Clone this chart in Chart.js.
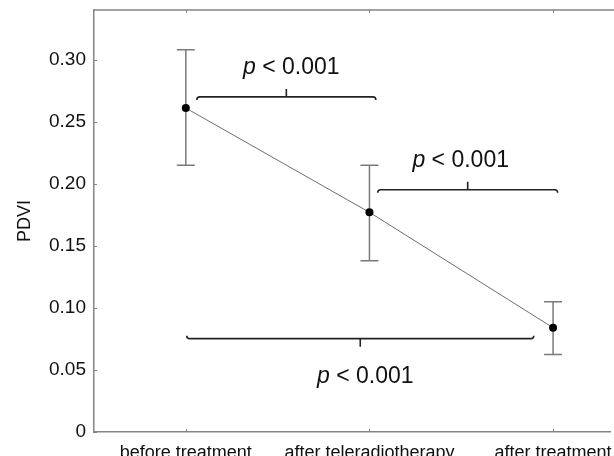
<!DOCTYPE html>
<html>
<head>
<meta charset="utf-8">
<script src="https://cdn.jsdelivr.net/npm/chart.js@4.4.1/dist/chart.umd.min.js"></script>
<style>
  html, body { margin: 0; padding: 0; background: #fff; overflow: hidden; }
  canvas { display: block; }
</style>
</head>
<body>
<canvas id="pdviChart" width="614" height="456"></canvas>
<script>
// values
const categories = ["before treatment", "after teleradiotherapy", "after treatment"];
const meanPDVI = [0.261, 0.177, 0.084];
const lowerPDVI = [0.215, 0.138, 0.0625];
const upperPDVI = [0.308, 0.215, 0.105];
const yTicks = [0, 0.05, 0.10, 0.15, 0.20, 0.25, 0.30];

// significance brackets: [from, to] in category units, height in PDVI units
const bracketFrom = [0.06, 1.045, 0.005];
const bracketTo = [1.035, 2.025, 1.895];
const bracketLevel = [0.27, 0.1952, 0.0752];
const bracketLabel = ["p < 0.001", "p < 0.001", "p < 0.001"];

const FONT = "'Liberation Sans', Arial, sans-serif";
const AXIS_GREY = "#858585";

const points = meanPDVI.map((v, i) => ({ x: i, y: v }));

// error bars under the points
const errorBars = {
    id: "errorBars",
    beforeDatasetsDraw(chart) {
        const ctx = chart.ctx;
        const xs = chart.scales.x;
        const ys = chart.scales.y;
        ctx.save();
        ctx.strokeStyle = "#7a7a7a";
        ctx.lineWidth = 1.5;
        meanPDVI.forEach((v, i) => {
            const x = xs.getPixelForValue(i);
            const top = ys.getPixelForValue(upperPDVI[i]);
            const bot = ys.getPixelForValue(lowerPDVI[i]);
            ctx.beginPath();
            ctx.moveTo(x, top);
            ctx.lineTo(x, bot);
            ctx.moveTo(x - 9, top);
            ctx.lineTo(x + 9, top);
            ctx.moveTo(x - 9, bot);
            ctx.lineTo(x + 9, bot);
            ctx.stroke();
        });
        ctx.restore();
    }
};

// frame (top line), inward ticks, brackets and p labels
const frameAndBrackets = {
    id: "frameAndBrackets",
    afterDraw(chart) {
        const ctx = chart.ctx;
        const area = chart.chartArea;
        const xs = chart.scales.x;
        const ys = chart.scales.y;
        ctx.save();

        ctx.strokeStyle = AXIS_GREY;
        ctx.lineWidth = 1.5;
        ctx.beginPath();
        ctx.moveTo(area.left, area.top);
        ctx.lineTo(chart.width, area.top);
        ctx.stroke();

        ctx.lineWidth = 1;
        ctx.beginPath();
        categories.forEach((c, i) => {
            const x = Math.round(xs.getPixelForValue(i)) + 0.5;
            ctx.moveTo(x, area.bottom);
            ctx.lineTo(x, area.bottom - 3);
            ctx.moveTo(x, area.top);
            ctx.lineTo(x, area.top + 3);
        });
        yTicks.forEach((t) => {
            const y = Math.round(ys.getPixelForValue(t)) + 0.5;
            ctx.moveTo(area.left, y);
            ctx.lineTo(area.left + 3, y);
        });
        ctx.stroke();

        ctx.strokeStyle = "#222";
        ctx.fillStyle = "#111";
        ctx.lineWidth = 1.6;
        bracketLevel.forEach((lvl, i) => {
            const x1 = xs.getPixelForValue(bracketFrom[i]);
            const x2 = xs.getPixelForValue(bracketTo[i]);
            const y = ys.getPixelForValue(lvl);
            const mid = (x1 + x2) / 2;
            // last bracket sits under the points, so it is flipped
            const dir = i === 2 ? -1 : 1;
            ctx.beginPath();
            ctx.moveTo(x1, y + 3 * dir);
            ctx.quadraticCurveTo(x1, y, x1 + 3, y);
            ctx.lineTo(x2 - 3, y);
            ctx.quadraticCurveTo(x2, y, x2, y + 3 * dir);
            ctx.moveTo(mid, y);
            ctx.lineTo(mid, y - 8 * dir);
            ctx.stroke();

            const textY = dir === 1 ? y - 23 : y + 44;
            drawPLabel(ctx, mid + (i === 1 ? -7 : 5), textY, bracketLabel[i]);
        });
        ctx.restore();
    }
};

function drawPLabel(ctx, cx, baseline, label) {
    const head = label.slice(0, 1);
    const rest = label.slice(1);
    ctx.textBaseline = "alphabetic";
    ctx.textAlign = "left";
    ctx.font = "italic 23px " + FONT;
    const wHead = ctx.measureText(head).width;
    ctx.font = "23px " + FONT;
    const wRest = ctx.measureText(rest).width;
    let x = cx - (wHead + wRest) / 2;
    ctx.font = "italic 23px " + FONT;
    ctx.fillText(head, x, baseline);
    ctx.font = "23px " + FONT;
    ctx.fillText(rest, x + wHead, baseline);
}

new Chart(document.getElementById("pdviChart"), {
    type: "line",
    data: {
        datasets: [{
            data: points,
            borderColor: "#6e6e6e",
            borderWidth: 1,
            pointRadius: 4,
            pointBackgroundColor: "#000",
            pointBorderColor: "#000",
            pointBorderWidth: 0,
            fill: false,
            tension: 0,
        }]
    },
    options: {
        responsive: false,
        animation: false,
        events: [],
        layout: { padding: { top: 10, right: 0, left: 0, bottom: 0 } },
        plugins: {
            legend: { display: false },
            tooltip: { enabled: false },
        },
        scales: {
            x: {
                type: "linear",
                min: -0.5,
                max: 2.31,
                afterBuildTicks: (scale) => {
                    scale.ticks = categories.map((c, i) => ({ value: i }));
                },
                afterFit: (scale) => {
                    scale.height = 24;
                    scale.paddingLeft = 0;
                    scale.paddingRight = 0;
                },
                grid: { display: false, drawTicks: false },
                border: { display: true, color: AXIS_GREY, width: 1.5 },
                ticks: {
                    autoSkip: false,
                    maxRotation: 0,
                    padding: 10,
                    color: "#111",
                    font: { family: FONT, size: 18 },
                    callback: (v) => categories[v],
                },
            },
            y: {
                min: 0,
                max: 0.34,
                afterBuildTicks: (scale) => {
                    scale.ticks = yTicks.map((t) => ({ value: t }));
                },
                afterFit: (scale) => {
                    scale.width = 94;
                    scale.paddingTop = 0;
                    scale.paddingBottom = 0;
                },
                grid: { display: false, drawTicks: false },
                border: { display: true, color: AXIS_GREY, width: 1.5 },
                ticks: {
                    padding: 8,
                    color: "#111",
                    font: { family: FONT, size: 19 },
                    callback: (v) => (v === 0 ? "0" : v.toFixed(2)),
                },
                title: {
                    display: true,
                    text: "PDVI",
                    color: "#111",
                    font: { family: FONT, size: 18 },
                    padding: { top: 14, bottom: 0 },
                },
            },
        },
    },
    plugins: [errorBars, frameAndBrackets],
});
</script>
</body>
</html>
